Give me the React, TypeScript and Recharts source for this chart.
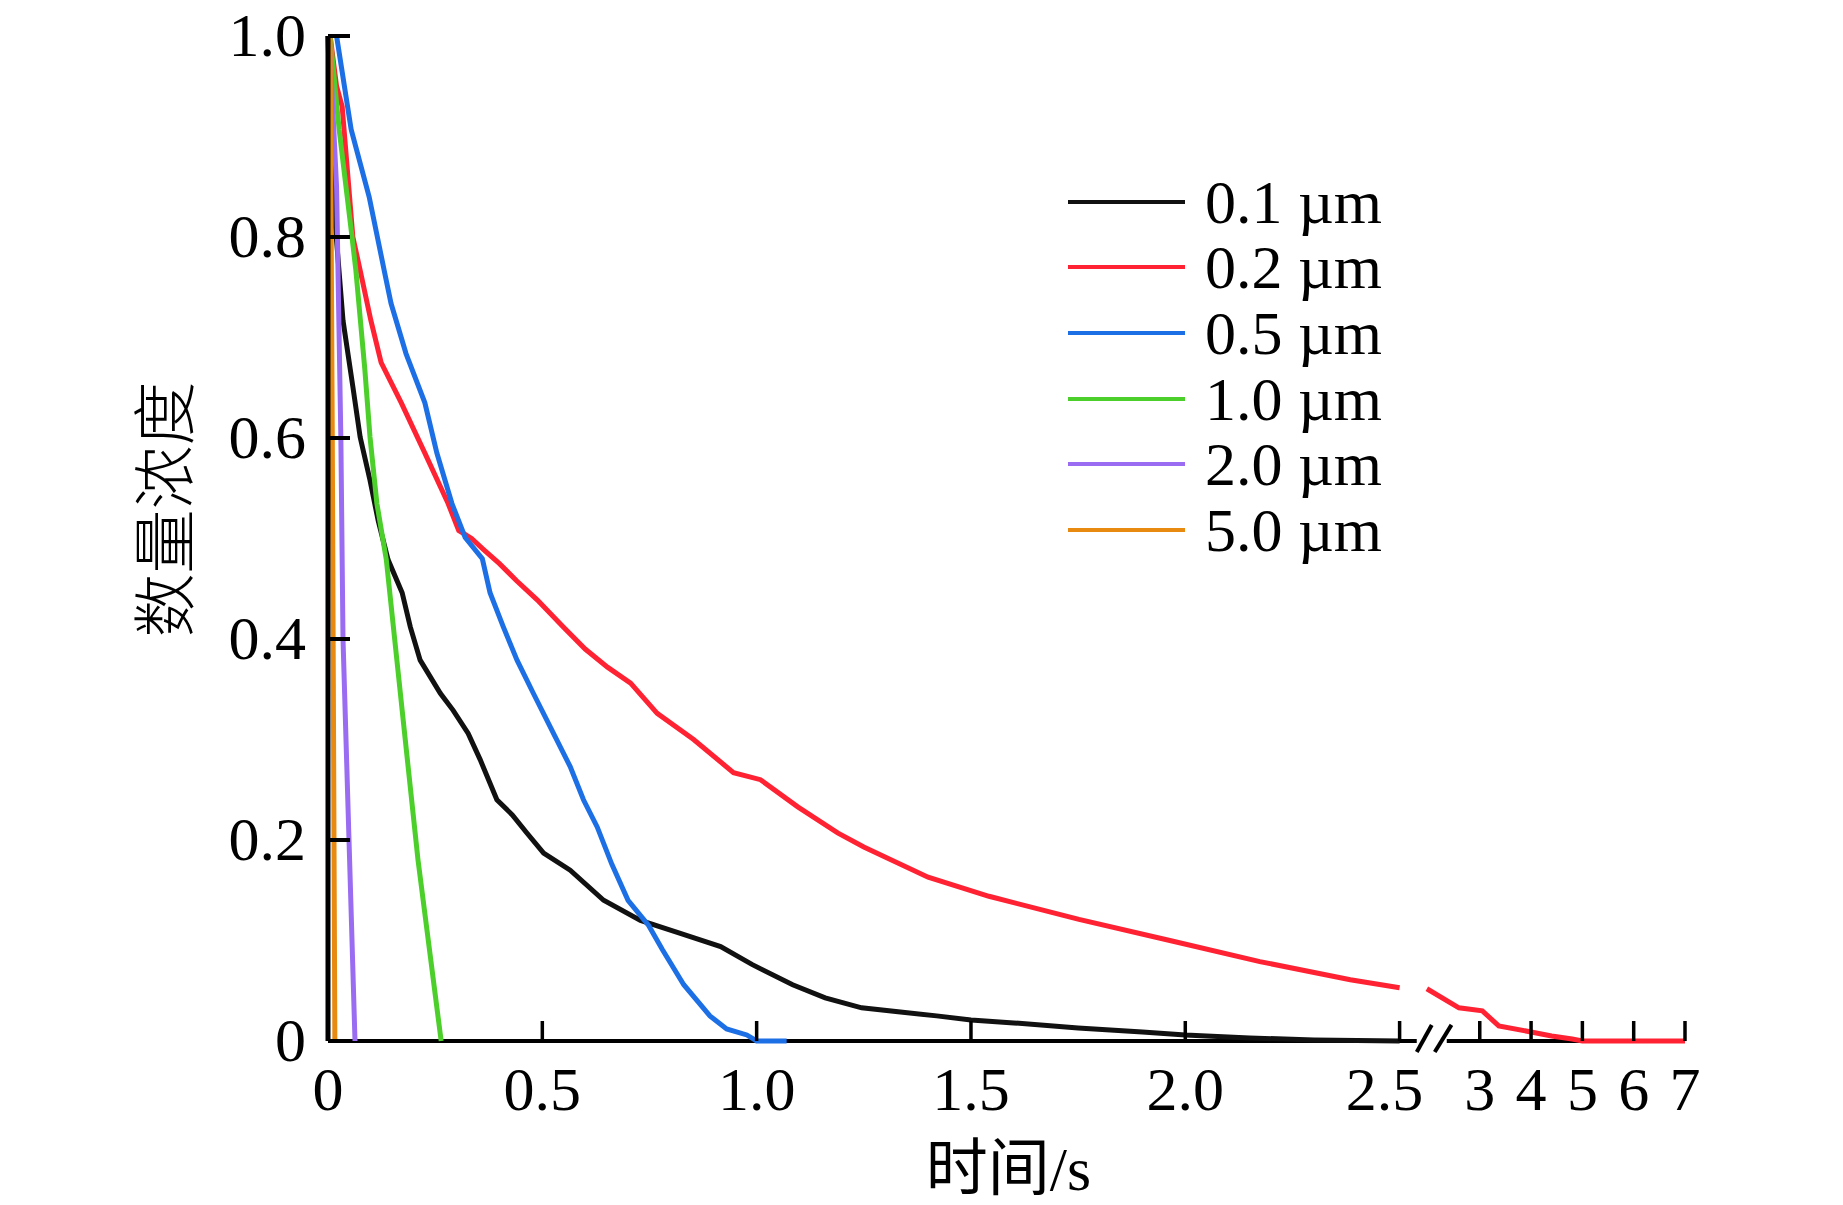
import React from "react";
import { LineChart, Line, XAxis, YAxis, Legend, ReferenceLine } from "recharts";

const W = 1843;
const H = 1205;
const SERIF = "'Liberation Serif', 'Times New Roman', 'Noto Sans CJK SC', serif";

// time axis is broken after 2.5 s: 2.5–3 s and 3–7 s are squeezed
const toAxis = (t: number) =>
  t <= 2.5 ? t : t <= 3 ? 2.5 + (t - 2.5) * 0.374 : 2.687 + (t - 3) * 0.1197;

const seriesNames = ["0.1 µm", "0.2 µm", "0.5 µm", "1.0 µm", "2.0 µm", "5.0 µm"];
const seriesColors = ["#111111", "#ff2233", "#1d6fe6", "#4ccf2a", "#9a6cf2", "#e88a10"];

// 0.1 µm
const time01 = [0, 0.01, 0.025, 0.035, 0.058, 0.075, 0.098, 0.117, 0.14, 0.173, 0.192, 0.215, 0.262, 0.292, 0.327, 0.355, 0.394, 0.43, 0.464, 0.503, 0.565, 0.643, 0.729, 0.822, 0.916, 0.99, 1.084, 1.16, 1.245, 1.33, 1.42, 1.5, 1.6, 1.75, 1.9, 2.0, 2.15, 2.3, 2.5];
const conc01 = [1.0, 0.85, 0.77, 0.717, 0.651, 0.601, 0.558, 0.518, 0.479, 0.446, 0.412, 0.379, 0.346, 0.329, 0.306, 0.28, 0.24, 0.225, 0.207, 0.187, 0.17, 0.14, 0.12, 0.107, 0.094, 0.076, 0.056, 0.043, 0.033, 0.029, 0.025, 0.021, 0.018, 0.013, 0.009, 0.006, 0.003, 0.001, 0];
// 0.2 µm (gap at the axis break)
const time02 = [0.005, 0.02, 0.033, 0.058, 0.075, 0.1, 0.124, 0.171, 0.226, 0.28, 0.305, 0.335, 0.363, 0.4, 0.44, 0.488, 0.549, 0.6, 0.652, 0.706, 0.768, 0.853, 0.946, 1.009, 1.096, 1.189, 1.25, 1.4, 1.542, 1.752, 1.964, 2.174, 2.385, 2.5, 2.6, 2.67, 2.87, 3.05, 3.37, 4.0, 4.4, 4.8, 5, 6, 7];
const conc02 = [1.0, 0.95, 0.93, 0.8, 0.767, 0.717, 0.675, 0.635, 0.585, 0.535, 0.508, 0.5, 0.489, 0.475, 0.458, 0.439, 0.412, 0.39, 0.372, 0.356, 0.326, 0.3, 0.267, 0.26, 0.233, 0.207, 0.193, 0.163, 0.144, 0.121, 0.1, 0.079, 0.061, 0.053, null, 0.052, 0.033, 0.03, 0.015, 0.009, 0.005, 0.002, 0, 0, 0];
// 0.5 µm
const time05 = [0.02, 0.054, 0.096, 0.131, 0.147, 0.182, 0.226, 0.254, 0.289, 0.32, 0.36, 0.378, 0.409, 0.441, 0.479, 0.519, 0.565, 0.596, 0.628, 0.662, 0.7, 0.748, 0.78, 0.83, 0.891, 0.93, 0.977, 1.0, 1.07];
const conc05 = [1.0, 0.907, 0.84, 0.767, 0.734, 0.684, 0.635, 0.585, 0.535, 0.501, 0.48, 0.446, 0.412, 0.379, 0.346, 0.312, 0.273, 0.24, 0.213, 0.176, 0.14, 0.115, 0.091, 0.056, 0.025, 0.012, 0.006, 0, 0];
// 1.0 µm
const time10 = [0.005, 0.026, 0.056, 0.065, 0.086, 0.098, 0.114, 0.136, 0.173, 0.21, 0.264];
const conc10 = [1.0, 0.907, 0.8, 0.767, 0.668, 0.601, 0.535, 0.479, 0.329, 0.18, 0];
// 2.0 µm
const time20 = [0.003, 0.02, 0.03, 0.035, 0.049, 0.063];
const conc20 = [1.0, 0.85, 0.6, 0.4, 0.2, 0];
// 5.0 µm
const time50 = [0.005, 0.01, 0.013, 0.016];
const conc50 = [1.0, 0.6, 0.3, 0];

const xTickTimes = [0, 0.5, 1, 1.5, 2, 2.5, 3, 4, 5, 6, 7];
const xTickLabels = ["0", "0.5", "1.0", "1.5", "2.0", "2.5", "3", "4", "5", "6", "7"];
const yTicks = [0, 0.2, 0.4, 0.6, 0.8, 1.0];
const yTickLabels = ["0", "0.2", "0.4", "0.6", "0.8", "1.0"];

const build = (ts: number[], cs: (number | null)[]) => ts.map((t, i) => ({ u: toAxis(t), v: cs[i] }));
const seriesData = [
  build(time01, conc01),
  build(time02, conc02),
  build(time05, conc05),
  build(time10, conc10),
  build(time20, conc20),
  build(time50, conc50),
];

const YTick = (props: any) => {
  const { x, y, index } = props;
  return (
    <g>
      <line x1={x} y1={y} x2={x + 22} y2={y} stroke="#000" strokeWidth={4} />
      <text x={x - 22} y={y} dy="0.33em" textAnchor="end" fontSize={62} fontFamily={SERIF} fill="#000">
        {yTickLabels[index]}
      </text>
    </g>
  );
};

const XTick = (props: any) => {
  const { x, y, index } = props;
  return (
    <g>
      {index > 0 && <line x1={x} y1={y} x2={x} y2={y - 20} stroke="#000" strokeWidth={3.5} />}
      <text x={x + (index === 5 ? -15 : 0)} y={y + 69} textAnchor="middle" fontSize={62} fontFamily={SERIF} fill="#000">
        {xTickLabels[index]}
      </text>
    </g>
  );
};

const LegendBox = () => (
  <div style={{ fontFamily: SERIF, fontSize: 62, color: "#000" }}>
    {seriesNames.map((n, i) => (
      <div key={n} style={{ display: "flex", alignItems: "center", height: 65.6 }}>
        <svg width={117} height={8} style={{ display: "block" }}>
          <line x1={0} y1={4} x2={117} y2={4} stroke={seriesColors[i]} strokeWidth={4} />
        </svg>
        <span style={{ marginLeft: 20, lineHeight: 1, whiteSpace: "nowrap" }}>{n}</span>
      </div>
    ))}
  </div>
);

export default function App() {
  const xMax = toAxis(7);
  return (
    <div style={{ position: "absolute", left: 0, top: 0, width: W, height: H, background: "#fff" }}>
      <LineChart width={W} height={H} margin={{ top: 36, right: 158, bottom: 14, left: 128 }}>
        <XAxis
          dataKey="u"
          type="number"
          domain={[0, xMax]}
          ticks={xTickTimes.map(toAxis)}
          axisLine={false}
          tickLine={false}
          tickSize={0}
          tickMargin={0}
          height={150}
          tick={<XTick />}
          interval={0}
          label={{
            content: (p: any) => {
              const vb = p.viewBox;
              return (
                <text x={vb.x + vb.width / 2 + 2} y={vb.y + 149} textAnchor="middle" fontSize={62} fontFamily={SERIF} fill="#000">
                  时间/s
                </text>
              );
            },
          }}
        />
        <YAxis
          type="number"
          domain={[0, 1]}
          ticks={yTicks}
          width={200}
          axisLine={{ stroke: "#000", strokeWidth: 5 }}
          tickLine={false}
          tickSize={0}
          tickMargin={0}
          tick={<YTick />}
          interval={0}
          label={{
            content: (p: any) => {
              const vb = p.viewBox;
              const cx = vb.x + 38;
              const cy = vb.y + vb.height / 2 - 29;
              return (
                <text x={cx} y={cy} textAnchor="middle" dominantBaseline="central" fontSize={64} fontWeight={300} fontFamily={SERIF} fill="#000" transform={`rotate(-90 ${cx} ${cy})`}>
                  数量浓度
                </text>
              );
            },
          }}
        />
        <ReferenceLine segment={[{ x: 0, y: 0 }, { x: 2.54, y: 0 }]} stroke="#000" strokeWidth={4} ifOverflow="visible" />
        <ReferenceLine segment={[{ x: 2.61, y: 0 }, { x: xMax, y: 0 }]} stroke="#000" strokeWidth={4} ifOverflow="visible" />
        <ReferenceLine segment={[{ x: 2.54, y: -0.011 }, { x: 2.575, y: 0.016 }]} stroke="#000" strokeWidth={4} ifOverflow="visible" />
        <ReferenceLine segment={[{ x: 2.582, y: -0.011 }, { x: 2.621, y: 0.016 }]} stroke="#000" strokeWidth={4} ifOverflow="visible" />
        <Legend
          layout="vertical"
          align="center"
          verticalAlign="middle"
          content={<LegendBox />}
          wrapperStyle={{ left: 1068, top: 169, width: 450 }}
        />
        {seriesData.map((d, i) => (
          <Line
            key={seriesNames[i]}
            data={d}
            dataKey="v"
            name={seriesNames[i]}
            type="linear"
            stroke={seriesColors[i]}
            strokeWidth={5}
            dot={false}
            connectNulls={false}
            isAnimationActive={false}
          />
        ))}
      </LineChart>
    </div>
  );
}
